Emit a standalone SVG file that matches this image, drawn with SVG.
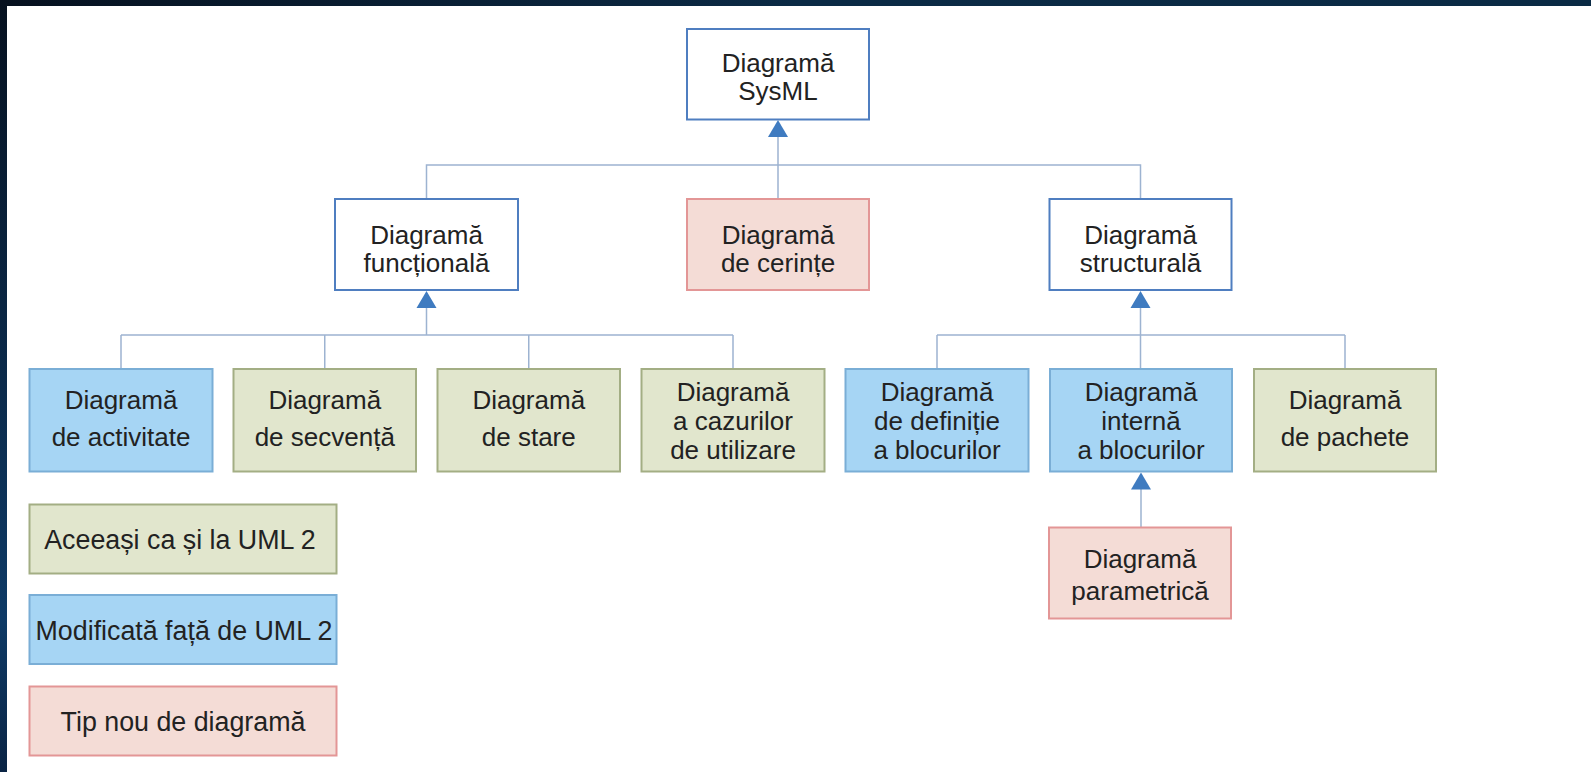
<svg xmlns="http://www.w3.org/2000/svg" width="1591" height="772" viewBox="0 0 1591 772">
<defs>
<linearGradient id="topband" x1="0" y1="0" x2="1" y2="0">
<stop offset="0" stop-color="#06111f"/>
<stop offset="0.5" stop-color="#0b2a45"/>
<stop offset="1" stop-color="#0a2a44"/>
</linearGradient>
<linearGradient id="leftband" x1="0" y1="0" x2="0" y2="1">
<stop offset="0" stop-color="#06111f"/>
<stop offset="0.8" stop-color="#0e3a66"/>
<stop offset="1" stop-color="#0a2444"/>
</linearGradient>
<style>
text{font-family:"Liberation Sans",Arial,sans-serif;font-size:26px;fill:#222;text-anchor:middle}
.leg{font-size:26.8px}
.white{fill:#fff;stroke:#4f7ec0;stroke-width:2}
.blue{fill:#a6d5f4;stroke:#7aaed6;stroke-width:2}
.green{fill:#e1e6cd;stroke:#a3ae84;stroke-width:2}
.red{fill:#f4dcd6;stroke:#e39696;stroke-width:2}
.con{fill:none;stroke:#9db3d1;stroke-width:1.5}
.arr{fill:#3f7bc0}
</style>
</defs>
<rect x="0" y="0" width="1591" height="772" fill="#fff"/>
<rect x="0" y="0" width="1591" height="6" fill="url(#topband)"/>
<rect x="0" y="0" width="7" height="772" fill="url(#leftband)"/>

<g id="connectors">
<path class="con" d="M778,137 V199 M426.5,199 V165 H1140.5 V199"/>
<path class="con" d="M426.5,307 V335 M121,335 H733 M121,335 V369 M324.75,335 V369 M528.75,335 V369 M733,335 V369"/>
<path class="con" d="M1140.5,307 V369 M937,335 H1345 M937,335 V369 M1345,335 V369"/>
<path class="con" d="M1141,489 V527.5"/>
<polygon class="arr" points="778,120 768,137 788,137"/>
<polygon class="arr" points="426.5,291 416.5,308 436.5,308"/>
<polygon class="arr" points="1140.5,291 1130.5,308 1150.5,308"/>
<polygon class="arr" points="1141,472.5 1131,489.5 1151,489.5"/>
</g>

<g id="sysml">
<rect class="white" x="687" y="29" width="182" height="90.5"/>
<text x="778" y="71.5">Diagramă</text>
<text x="778" y="100">SysML</text>
</g>
<g id="functionala">
<rect class="white" x="335" y="199" width="183" height="91"/>
<text x="426.5" y="243.5">Diagramă</text>
<text x="426.5" y="271.5">funcțională</text>
</g>
<g id="cerinte">
<rect class="red" x="687" y="199" width="182" height="91"/>
<text x="778" y="243.5">Diagramă</text>
<text x="778" y="271.5">de cerințe</text>
</g>
<g id="structurala">
<rect class="white" x="1049.5" y="199" width="182" height="91"/>
<text x="1140.5" y="243.5">Diagramă</text>
<text x="1140.5" y="271.5">structurală</text>
</g>

<g id="activitate">
<rect class="blue" x="29.5" y="369" width="183" height="102.5"/>
<text x="121" y="409">Diagramă</text>
<text x="121" y="446">de activitate</text>
</g>
<g id="secventa">
<rect class="green" x="233.5" y="369" width="182.5" height="102.5"/>
<text x="324.75" y="409">Diagramă</text>
<text x="324.75" y="446">de secvență</text>
</g>
<g id="stare">
<rect class="green" x="437.5" y="369" width="182.5" height="102.5"/>
<text x="528.75" y="409">Diagramă</text>
<text x="528.75" y="446">de stare</text>
</g>
<g id="cazuri">
<rect class="green" x="641.5" y="369" width="183" height="102.5"/>
<text x="733" y="400.5">Diagramă</text>
<text x="733" y="429.5">a cazurilor</text>
<text x="733" y="458.5">de utilizare</text>
</g>
<g id="definitie">
<rect class="blue" x="845.5" y="369" width="183" height="102.5"/>
<text x="937" y="400.5">Diagramă</text>
<text x="937" y="429.5">de definiție</text>
<text x="937" y="458.5">a blocurilor</text>
</g>
<g id="interna">
<rect class="blue" x="1050" y="369" width="182" height="102.5"/>
<text x="1141" y="400.5">Diagramă</text>
<text x="1141" y="429.5">internă</text>
<text x="1141" y="458.5">a blocurilor</text>
</g>
<g id="pachete">
<rect class="green" x="1254" y="369" width="182" height="102.5"/>
<text x="1345" y="409">Diagramă</text>
<text x="1345" y="446">de pachete</text>
</g>
<g id="parametrica">
<rect class="red" x="1049" y="527.5" width="182" height="91"/>
<text x="1140" y="568">Diagramă</text>
<text x="1140" y="600">parametrică</text>
</g>

<g id="legend-aceeasi">
<rect class="green" x="29.5" y="504.5" width="307" height="69"/>
<text class="leg" x="180" y="549">Aceeași ca și la UML 2</text>
</g>
<g id="legend-modificata">
<rect class="blue" x="29.5" y="595" width="307" height="69"/>
<text class="leg" x="184" y="639.5">Modificată față de UML 2</text>
</g>
<g id="legend-tipnou">
<rect class="red" x="29.5" y="686.5" width="307" height="69"/>
<text class="leg" x="183" y="731">Tip nou de diagramă</text>
</g>
</svg>
